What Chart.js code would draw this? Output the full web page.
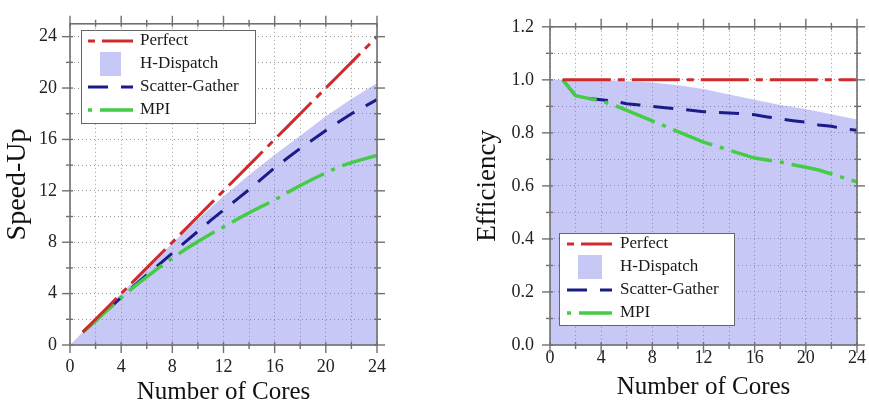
<!DOCTYPE html>
<html>
<head>
<meta charset="utf-8">
<script src="https://cdn.jsdelivr.net/npm/chart.js@4.4.1/dist/chart.umd.min.js"></script>
<style>
  html, body { margin: 0; background: #fff; }
  .panel { position: absolute; top: 0; height: 407px; }
  #left { left: 0; width: 440px; }
  #right { left: 440px; width: 429px; }
</style>
</head>
<body>
<div class="panel" id="left"><canvas id="speedupChart" width="440" height="407"></canvas></div>
<div class="panel" id="right"><canvas id="efficiencyChart" width="429" height="407"></canvas></div>
<script>
// cores used for the measured series
const cores = [1, 2, 3, 4, 5, 6, 7, 8, 9, 10, 11, 12, 13, 14, 15, 16, 17, 18, 19, 20, 21, 22, 23, 24];
// the H-Dispatch band is sampled every 2 cores
const dispatchCores = [0, 2, 4, 6, 8, 10, 12, 14, 16, 18, 20, 22, 24];

const perfectSpeedup = [1, 2, 3, 4, 5, 6, 7, 8, 9, 10, 11, 12, 13, 14, 15, 16, 17, 18, 19, 20, 21, 22, 23, 24];
const dispatchSpeedup = [0, 2, 4, 5.97, 7.92, 9.8, 11.58, 13.23, 14.8, 16.29, 17.8, 19.14, 20.4];
const scatterSpeedup = [1, 1.88, 2.79, 3.7, 4.6, 5.46, 6.3, 7.15, 8.0, 8.85, 9.7, 10.5, 11.3, 12.1, 12.95, 13.8, 14.55, 15.3, 16.0, 16.7, 17.35, 18.0, 18.55, 19.1];
const mpiSpeedup = [1, 1.88, 2.79, 3.68, 4.53, 5.31, 6.06, 6.76, 7.43, 8.05, 8.64, 9.18, 9.75, 10.29, 10.8, 11.28, 11.87, 12.42, 12.92, 13.4, 13.86, 14.19, 14.49, 14.76];

const perfectEff = [1, 1, 1, 1, 1, 1, 1, 1, 1, 1, 1, 1, 1, 1, 1, 1, 1, 1, 1, 1, 1, 1, 1, 1];
const dispatchEff = [1.0, 1.0, 1.0, 0.995, 0.99, 0.98, 0.965, 0.945, 0.925, 0.905, 0.89, 0.87, 0.85];
const scatterEff = [1.0, 0.94, 0.93, 0.925, 0.92, 0.91, 0.905, 0.9, 0.895, 0.89, 0.885, 0.88, 0.877, 0.875, 0.872, 0.868, 0.86, 0.853, 0.846, 0.84, 0.83, 0.825, 0.815, 0.81];
const mpiEff = [1.0, 0.94, 0.93, 0.92, 0.905, 0.885, 0.865, 0.845, 0.825, 0.805, 0.785, 0.765, 0.75, 0.735, 0.72, 0.705, 0.698, 0.69, 0.68, 0.67, 0.66, 0.645, 0.63, 0.615];

const seriesLabels = ['Perfect', 'H-Dispatch', 'Scatter-Gather', 'MPI'];
const speedupTicks = [0, 4, 8, 12, 16, 20, 24];
const coreTicks = [0, 4, 8, 12, 16, 20, 24];

const SERIF = '"Liberation Serif", "DejaVu Serif", serif';
const RED = '#d02a2a';
const NAVY = '#1b1b8a';
const GREEN = '#45cc45';
const FILL = 'rgba(110, 110, 235, 0.38)';

const pairs = (xs, ys) => xs.map((x, i) => ({ x, y: ys[i] }));

function makeDatasets(perfect, dispatch, scatter, mpi) {
  return [
    { label: seriesLabels[0], data: pairs(cores, perfect), borderColor: RED, borderWidth: 3,
      borderDash: [48, 7, 7, 7], pointRadius: 0, fill: false, order: 0 },
    { label: seriesLabels[1], data: pairs(dispatchCores, dispatch), borderColor: 'rgba(0,0,0,0)',
      borderWidth: 0, backgroundColor: FILL, pointRadius: 0, fill: 'origin', order: 5 },
    { label: seriesLabels[2], data: pairs(cores, scatter), borderColor: NAVY, borderWidth: 3,
      borderDash: [20, 13], pointRadius: 0, fill: false, order: 2 },
    { label: seriesLabels[3], data: pairs(cores, mpi), borderColor: GREEN, borderWidth: 3.5,
      borderDash: [42, 8, 4, 8], pointRadius: 0, fill: false, order: 1 }
  ];
}

// frame round the plot with ticks on all four sides
const framePlugin = {
  id: 'frame',
  afterDraw(chart) {
    const { ctx, chartArea: a, scales } = chart;
    ctx.save();
    ctx.strokeStyle = '#707070';
    ctx.lineWidth = 1.6;
    ctx.strokeRect(a.left, a.top, a.right - a.left, a.bottom - a.top);
    ctx.lineWidth = 1.4;
    const seg = (x1, y1, x2, y2) => { ctx.beginPath(); ctx.moveTo(x1, y1); ctx.lineTo(x2, y2); ctx.stroke(); };
    scales.x.ticks.forEach(t => {
      const px = scales.x.getPixelForValue(t.value);
      const len = t.label ? 8 : 4;
      seg(px, a.bottom - 3, px, a.bottom + len);
      seg(px, a.top + 3, px, a.top - len);
    });
    scales.y.ticks.forEach(t => {
      const py = scales.y.getPixelForValue(t.value);
      const len = t.label ? 8 : 4;
      seg(a.left + 3, py, a.left - len, py);
      seg(a.right - 3, py, a.right + len, py);
    });
    ctx.restore();
  }
};

// boxed legend sitting inside the plot
const legendPlugin = {
  id: 'boxLegend',
  afterDraw(chart, args, opts) {
    const { ctx } = chart;
    ctx.save();
    ctx.fillStyle = '#fff';
    ctx.fillRect(opts.x, opts.y, opts.w, opts.h);
    ctx.strokeStyle = '#666';
    ctx.lineWidth = 1;
    ctx.strokeRect(opts.x + 0.5, opts.y + 0.5, opts.w, opts.h);
    ctx.font = '17px ' + SERIF;
    ctx.textBaseline = 'middle';
    chart.data.datasets.forEach((ds, i) => {
      const rowY = opts.y + opts.rowTop + i * opts.rowGap;
      if (ds.fill) {
        ctx.fillStyle = ds.backgroundColor;
        ctx.fillRect(opts.swatchX, rowY - 12, opts.swatchW, 24);
      } else {
        ctx.strokeStyle = ds.borderColor;
        ctx.lineWidth = ds.borderWidth;
        const dash = ds.borderDash;
        ctx.setLineDash(dash);
        ctx.lineDashOffset = dash.length > 2 ? dash[0] + dash[1] : 0;
        ctx.beginPath();
        ctx.moveTo(opts.sampleX, rowY);
        ctx.lineTo(opts.sampleX + 45, rowY);
        ctx.stroke();
        ctx.setLineDash([]);
      }
      ctx.fillStyle = '#1a1a1a';
      ctx.fillText(ds.label, opts.textX, rowY);
    });
    ctx.restore();
  }
};

function xScale(labelPad, titlePad) {
  return {
    type: 'linear', min: 0, max: 24,
    afterFit: s => { s.height = 62; },
    ticks: {
      stepSize: 2, autoSkip: false, maxRotation: 0, padding: labelPad, color: '#222',
      font: { family: SERIF, size: 18 },
      callback: v => coreTicks.includes(v) ? String(v) : ''
    },
    grid: { color: '#9a9a9a', lineWidth: 1, drawTicks: false },
    border: { display: false, dash: [1, 3] },
    title: { display: true, text: 'Number of Cores', color: '#111',
      font: { family: SERIF, size: 25 }, padding: { top: 0, bottom: titlePad } }
  };
}

new Chart(document.getElementById('speedupChart'), {
  type: 'line',
  data: { datasets: makeDatasets(perfectSpeedup, dispatchSpeedup, scatterSpeedup, mpiSpeedup) },
  options: {
    responsive: false,
    animation: false,
    layout: { padding: { top: 18, right: 63, left: 0, bottom: 0 } },
    plugins: {
      legend: { display: false },
      tooltip: { enabled: false },
      boxLegend: { x: 81, y: 30, w: 174, h: 93, rowTop: 11, rowGap: 23,
        sampleX: 88, textX: 140, swatchX: 100, swatchW: 21 }
    },
    scales: {
      x: xScale(11, 0),
      y: {
        type: 'linear', min: 0, max: 25,
        afterFit: s => { s.width = 70; },
        afterBuildTicks: s => { s.ticks = s.ticks.filter(t => t.value % 2 === 0 && t.value <= 24); },
        ticks: {
          stepSize: 2, includeBounds: false, padding: 13, color: '#222',
          font: { family: SERIF, size: 18 },
          callback: v => speedupTicks.includes(v) ? String(v) : ''
        },
        grid: { color: '#9a9a9a', lineWidth: 1, drawTicks: false },
        border: { display: false, dash: [1, 3] },
        title: { display: true, text: 'Speed-Up', color: '#111',
          font: { family: SERIF, size: 28 }, padding: { top: 1, bottom: 0 } }
      }
    }
  },
  plugins: [framePlugin, legendPlugin]
});

new Chart(document.getElementById('efficiencyChart'), {
  type: 'line',
  data: { datasets: makeDatasets(perfectEff, dispatchEff, scatterEff, mpiEff) },
  options: {
    responsive: false,
    animation: false,
    layout: { padding: { top: 18, right: 12, left: 0, bottom: 0 } },
    plugins: {
      legend: { display: false },
      tooltip: { enabled: false },
      boxLegend: { x: 119, y: 233, w: 175, h: 92, rowTop: 11, rowGap: 23,
        sampleX: 127, textX: 180, swatchX: 138, swatchW: 24 }
    },
    scales: {
      x: xScale(2, 5),
      y: {
        type: 'linear', min: 0, max: 1.2,
        afterFit: s => { s.width = 110; },
        ticks: {
          stepSize: 0.1, padding: 16, color: '#222',
          font: { family: SERIF, size: 18 },
          callback: v => Math.round(v * 10) % 2 === 0 ? v.toFixed(1) : ''
        },
        grid: { color: '#9a9a9a', lineWidth: 1, drawTicks: false },
        border: { display: false, dash: [1, 3] },
        title: { display: true, text: 'Efficiency', color: '#111',
          font: { family: SERIF, size: 27 }, padding: { top: 32, bottom: 0 } }
      }
    }
  },
  plugins: [framePlugin, legendPlugin]
});
</script>
</body>
</html>
